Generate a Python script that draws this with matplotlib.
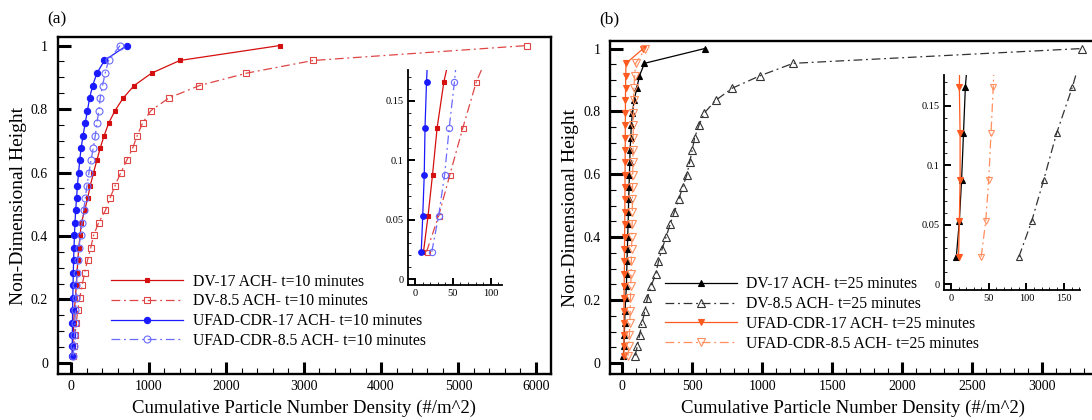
import matplotlib
matplotlib.use('Agg')
import matplotlib.pyplot as plt
from matplotlib.ticker import MultipleLocator, FuncFormatter

plt.rcParams['font.family'] = ['Liberation Serif', 'DejaVu Serif']

# non-dimensional heights (same for every series)
heights = [0.023, 0.053, 0.088, 0.127, 0.166, 0.206, 0.245, 0.284, 0.324, 0.363,
           0.402, 0.441, 0.481, 0.520, 0.559, 0.599, 0.638, 0.677, 0.716, 0.756,
           0.795, 0.835, 0.874, 0.913, 0.953, 1.0]

# panel (a), t = 10 minutes
dv17_t10 = [11, 17, 23, 29, 38, 52, 62, 72, 83, 95, 112, 128, 172, 210, 244, 285,
            328, 372, 422, 482, 563, 670, 810, 1035, 1400, 2690]
dv85_t10 = [15, 31, 46, 63, 81, 108, 138, 170, 208, 250, 286, 350, 440, 500, 564,
            637, 714, 791, 850, 919, 1026, 1261, 1654, 2261, 3122, 5880]
ufad17_t10 = [8, 10, 12, 13, 15, 18, 21, 24, 28, 33, 39, 46, 55, 66, 78, 92, 107,
              125, 150, 178, 207, 235, 274, 329, 427, 714]
ufad85_t10 = [22, 31, 39, 45, 52, 58, 64, 72, 82, 96, 118, 137, 158, 179, 201, 226,
              252, 282, 308, 329, 355, 372, 402, 436, 479, 628]

# panel (b), t = 25 minutes
dv17_t25 = [7, 11, 14, 16.5, 19, 24, 29, 31, 33, 36, 38, 41, 43, 45, 48, 50, 53, 55,
            60, 64, 72, 84, 103, 122, 158, 588]
dv85_t25 = [90, 107, 123, 140, 161, 179, 205, 239, 258, 284, 313, 341, 372, 403, 430,
            461, 480, 499, 516, 547, 585, 666, 785, 981, 1220, 3281]
ufad17_t25 = [10, 11, 12, 12, 11, 12, 13, 14, 15, 15, 16, 17, 18, 18, 19, 19, 20, 20,
              21, 21, 22, 22, 23, 24, 26, 150]
ufad85_t25 = [40, 46, 50, 53, 56, 58, 60, 62, 64, 66, 68, 70, 71, 72, 73, 74, 75, 76,
              77, 78, 79, 80, 82, 88, 95, 165]

labels_t10 = ['DV-17 ACH- t=10 minutes', 'DV-8.5 ACH- t=10 minutes',
              'UFAD-CDR-17 ACH- t=10 minutes', 'UFAD-CDR-8.5 ACH- t=10 minutes']
labels_t25 = ['DV-17 ACH- t=25 minutes', 'DV-8.5 ACH- t=25 minutes',
              'UFAD-CDR-17 ACH- t=25 minutes', 'UFAD-CDR-8.5 ACH- t=25 minutes']

DASHDOT = (0, (7, 3, 1.5, 3))

# (color, marker, filled, linestyle, markersize)
styles_a = [('#d40f0f', 's', True, '-', 3.5),
            ('#e04545', 's', False, DASHDOT, 4),
            ('#1a1aff', 'o', True, '-', 4.5),
            ('#6a6aff', 'o', False, DASHDOT, 5)]
styles_b = [('#000000', '^', True, '-', 5),
            ('#333333', '^', False, DASHDOT, 5.5),
            ('#ff5a1f', 'v', True, '-', 5),
            ('#ff8f5e', 'v', False, DASHDOT, 5.5)]


def draw_series(ax, series, styles, labels=None, inset=False):
    for i, (xs, st) in enumerate(zip(series, styles)):
        color, marker, filled, ls, ms = st
        if inset:
            ms = ms * 0.9
        ax.plot(xs, heights, color=color, linestyle=ls, linewidth=0.9,
                marker=marker, markersize=ms,
                markerfacecolor=color if filled else 'none',
                markeredgecolor=color, markeredgewidth=0.8,
                label=labels[i] if labels else None)


def style_main(ax, xmajor, xminor):
    for s in ax.spines.values():
        s.set_linewidth(1.7)
    ax.xaxis.set_major_locator(MultipleLocator(xmajor))
    ax.xaxis.set_minor_locator(MultipleLocator(xminor))
    ax.yaxis.set_major_locator(MultipleLocator(0.2))
    ax.yaxis.set_minor_locator(MultipleLocator(0.05))
    ax.yaxis.set_major_formatter(FuncFormatter(lambda v, p: '%g' % round(v, 3)))
    ax.tick_params(which='major', direction='in', length=9, width=2.2, labelsize=10,
                   top=False, right=False)
    ax.tick_params(which='minor', direction='in', length=4, width=0.8,
                   top=False, right=False)
    ax.tick_params(axis='y', which='major', pad=7)
    ax.tick_params(axis='x', which='major', pad=4)
    ax.set_xlabel('Cumulative Particle Number Density (#/m^2)', fontsize=13.5, labelpad=5)
    ax.set_ylabel('Non-Dimensional Height', fontsize=14, labelpad=3)


def style_inset(ax, xlim, xmajor, xminor):
    ax.set_xlim(*xlim)
    ax.set_ylim(-0.005, 0.176)
    ax.spines['top'].set_visible(False)
    ax.spines['right'].set_visible(False)
    for s in ('left', 'bottom'):
        ax.spines[s].set_linewidth(1.3)
    ax.patch.set_alpha(0)
    ax.xaxis.set_major_locator(MultipleLocator(xmajor))
    ax.xaxis.set_minor_locator(MultipleLocator(xminor))
    ax.yaxis.set_major_locator(MultipleLocator(0.05))
    ax.yaxis.set_minor_locator(MultipleLocator(0.01))
    ax.yaxis.set_major_formatter(FuncFormatter(lambda v, p: '%g' % round(v, 3)))
    ax.tick_params(which='major', direction='in', length=5, width=1.4, labelsize=7.5,
                   top=False, right=False, pad=3)
    ax.tick_params(which='minor', direction='in', length=2.5, width=0.6,
                   top=False, right=False)


fig = plt.figure(figsize=(10.92, 4.2), dpi=100)

# ---- panel (a)
ax_a = fig.add_axes([0.0528, 0.1095, 0.4517, 0.8024])
series_a = [dv17_t10, dv85_t10, ufad17_t10, ufad85_t10]
draw_series(ax_a, series_a, styles_a, labels_t10)
ax_a.set_xlim(-178, 6195)
ax_a.set_ylim(-0.035, 1.027)
style_main(ax_a, 1000, 200)
ax_a.legend(loc='upper left', bbox_to_anchor=(0.108, 0.298), frameon=False,
            fontsize=11.3, handlelength=4.6, handletextpad=0.6, labelspacing=0.24,
            borderpad=0, borderaxespad=0)
fig.text(0.043, 0.955, '(a)', fontsize=12.5, va='center')

ins_a = fig.add_axes([0.3733, 0.3214, 0.0864, 0.512])
draw_series(ins_a, series_a, styles_a, inset=True)
style_inset(ins_a, (-10, 115), 50, 10)

# ---- panel (b)
ax_b = fig.add_axes([0.5589, 0.1095, 0.4439, 0.7929])
series_b = [dv17_t25, dv85_t25, ufad17_t25, ufad85_t25]
draw_series(ax_b, series_b, styles_b, labels_t25)
ax_b.set_xlim(-86, 3376)
ax_b.set_ylim(-0.035, 1.024)
style_main(ax_b, 500, 100)
ax_b.legend(loc='upper left', bbox_to_anchor=(0.112, 0.293), frameon=False,
            fontsize=11.3, handlelength=4.6, handletextpad=0.6, labelspacing=0.24,
            borderpad=0, borderaxespad=0)
fig.text(0.549, 0.955, '(b)', fontsize=12.5, va='center')

ins_b = fig.add_axes([0.8645, 0.3095, 0.1245, 0.512])
draw_series(ins_b, series_b, styles_b, inset=True)
style_inset(ins_b, (-9.3, 171), 50, 10)

fig.savefig('out.png', dpi=100)
